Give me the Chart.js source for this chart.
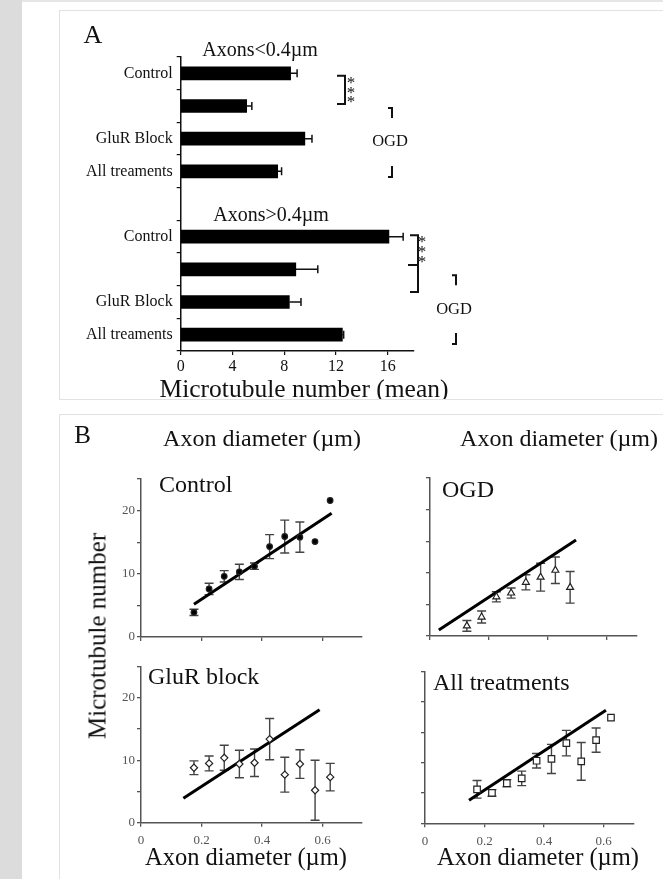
<!DOCTYPE html>
<html>
<head>
<meta charset="utf-8">
<title>Microtubule number</title>
<script src="https://cdn.jsdelivr.net/npm/chart.js"></script>
<style>
html, body { margin: 0; padding: 0; }
body {
    width: 663px; height: 879px; position: relative; overflow: hidden;
    background: #fff; font-family: "Liberation Serif", "Times New Roman", serif;
}
#strip { position: absolute; left: 0; top: 0; width: 22px; height: 879px; background: #dcdcdc; }
#topband { position: absolute; left: 22px; top: 0; width: 641px; height: 2px; background: #e6e6e6; }
.box { position: absolute; box-sizing: border-box; border: 1.5px solid #e2e2e2; background: #fff; }
.panel { position: absolute; left: 0; width: 663px; overflow: hidden; }
canvas { position: absolute; }
.t { position: absolute; white-space: nowrap; line-height: 1; color: #111; transform: translate(-50%, -50%); }
.l { position: absolute; white-space: nowrap; line-height: 1; color: #111; transform: translate(0, -50%); }
.rot { transform: translate(-50%, -50%) rotate(-90deg); }
</style>
</head>
<body>
<div id="strip"></div>
<div id="topband"></div>
<div class="box" style="left:59px;top:10px;width:660px;height:390px;"></div>
<div class="box" style="left:59px;top:414px;width:660px;height:500px;"></div>

<!-- 面板A：柱状图 -->
<div class="panel" style="top:0;height:399px;">
    <canvas id="barChart" width="600" height="390" style="left:60px;top:10px;"></canvas>
    <div class="t" style="left:93px;top:34.5px;font-size:26px;">A</div>
    <div class="t" style="left:260px;top:49px;font-size:20px;">Axons&lt;0.4µm</div>
    <div class="t" style="left:271px;top:213.5px;font-size:20px;">Axons&gt;0.4µm</div>
    <div class="t" style="left:390px;top:141px;font-size:16.5px;">OGD</div>
    <div class="t" style="left:454px;top:309px;font-size:16.5px;">OGD</div>
    <div class="t" style="left:304px;top:389px;font-size:25.5px;">Microtubule number (mean)</div>
</div>

<!-- 面板B：散点图 -->
<div class="panel" style="top:0;height:879px;">
    <canvas id="controlChart" width="280" height="200" style="left:100px;top:460px;"></canvas>
    <canvas id="ogdChart" width="270" height="200" style="left:390px;top:460px;"></canvas>
    <canvas id="glurChart" width="280" height="229" style="left:100px;top:650px;"></canvas>
    <canvas id="allChart" width="275" height="229" style="left:385px;top:650px;"></canvas>
    <div class="t" style="left:82.5px;top:434px;font-size:25px;">B</div>
    <div class="t" style="left:262px;top:438px;font-size:24px;">Axon diameter (µm)</div>
    <div class="t" style="left:559px;top:438px;font-size:24px;">Axon diameter (µm)</div>
    <div class="l" style="left:159px;top:484px;font-size:24px;">Control</div>
    <div class="l" style="left:442px;top:488.5px;font-size:24px;">OGD</div>
    <div class="l" style="left:148px;top:676px;font-size:24px;">GluR block</div>
    <div class="l" style="left:433px;top:681.5px;font-size:24px;">All treatments</div>
    <div class="t rot" style="left:97px;top:636px;font-size:25px;">Microtubule number</div>
    <div class="t" style="left:246px;top:857px;font-size:24.5px;">Axon diameter (µm)</div>
    <div class="t" style="left:538px;top:857px;font-size:24.5px;">Axon diameter (µm)</div>
</div>

<script>
// 面板A数据：微管数量均值（上组 <0.4µm，下组 >0.4µm，中间留空一行）
const barLabels = ['Control', '', 'GluR Block', 'All treaments', '', 'Control', '', 'GluR Block', 'All treaments'];
const barMeans = [8.5, 5.1, 9.6, 7.5, null, 16.1, 8.9, 8.4, 12.5];
const barErrors = [0.5, 0.4, 0.55, 0.3, 0, 1.1, 1.7, 0.9, 0.1];
const barTicks = [0, 4, 8, 12, 16];

// 面板B数据：按轴突直径分组
const diamBins = [0.175, 0.225, 0.275, 0.325, 0.375, 0.425, 0.475, 0.525, 0.575, 0.625];
const ogdBins = [0.125, 0.175, 0.225, 0.275, 0.325, 0.375, 0.425, 0.475];

const controlMeans = [3.9, 7.6, 9.6, 10.3, 11.2, 14.3, 15.9, 15.8, 15.1, 21.6];
const controlErrors = [0.5, 0.9, 0.9, 1.2, 0.5, 1.9, 2.6, 2.4, 0, 0];
const controlFitX = [0.175, 0.63];
const controlFitY = [5.2, 19.6];

const ogdMeans = [1.6, 3.0, 6.2, 6.8, 8.5, 9.3, 10.4, 7.7];
const ogdErrors = [0.85, 0.95, 0.8, 0.8, 1.2, 2.2, 2.1, 2.5];
const ogdFitX = [0.03, 0.495];
const ogdFitY = [0.95, 15.2];

const glurMeans = [8.8, 9.5, 10.4, 9.4, 9.6, 13.4, 7.7, 9.4, 5.2, 7.3];
const glurErrors = [1.1, 1.2, 2.0, 2.2, 2.2, 3.3, 2.8, 2.3, 4.8, 2.2];
const glurFitX = [0.14, 0.59];
const glurFitY = [3.9, 18.1];

const allMeans = [5.6, 5.0, 6.6, 7.4, 10.3, 10.6, 13.2, 10.2, 13.7, 17.4];
const allErrors = [1.45, 0.55, 0.6, 1.2, 1.2, 2.4, 2.1, 3.1, 2.0, 0];
const allFitX = [0.148, 0.608];
const allFitY = [3.8, 18.6];

const diamTicks = [0, 0.2, 0.4, 0.6];
const countTicks = [0, 5, 10, 15, 20, 25];

// 全局图表对象
window.figureCharts = window.figureCharts || {};

const serifFamily = '"Liberation Serif", "Times New Roman", serif';
const axisGray = '#555';

document.addEventListener('DOMContentLoaded', function() {
    if (typeof Chart === 'undefined') {
        console.error('Chart.js未加载成功');
        return;
    }
    Chart.defaults.font.family = serifFamily;
    try {
        initBarPanel();
        initScatterPanels();
    } catch (error) {
        console.error('初始化图表时发生错误:', error);
    }
});

/**
 * 清除刻度轴的额外留白，使绘图区位置固定
 */
function clearPad(s) {
    s.paddingTop = 0;
    s.paddingBottom = 0;
    s.paddingLeft = 0;
    s.paddingRight = 0;
}

/**
 * 面板A：误差线
 */
const barErrorPlugin = {
    id: 'barErrors',
    afterDatasetsDraw(chart) {
        const meta = chart.getDatasetMeta(0);
        const xs = chart.scales.x;
        const c = chart.ctx;
        c.save();
        c.strokeStyle = '#111';
        c.lineWidth = 1.5;
        meta.data.forEach((bar, i) => {
            const e = barErrors[i];
            if (!e || barMeans[i] == null) return;
            const x0 = xs.getPixelForValue(barMeans[i]);
            const x1 = xs.getPixelForValue(barMeans[i] + e);
            c.beginPath();
            c.moveTo(x0, bar.y);
            c.lineTo(x1, bar.y);
            c.moveTo(x1, bar.y - 4);
            c.lineTo(x1, bar.y + 4);
            c.stroke();
        });
        c.restore();
    }
};

/**
 * 面板A：显著性括号、星号和 OGD 角括号
 */
const bracketPlugin = {
    id: 'brackets',
    afterDraw(chart) {
        const ys = chart.scales.y;
        const c = chart.ctx;
        const py = i => ys.getPixelForValue(i);
        c.save();
        c.strokeStyle = '#111';
        c.fillStyle = '#111';
        c.lineWidth = 2;

        // 上组 Control vs OGD
        let top = py(0) + 2.5, bot = py(1) - 2;
        c.beginPath();
        c.moveTo(277, top); c.lineTo(285, top); c.lineTo(285, bot); c.lineTo(277, bot);
        c.stroke();

        // 下组 Control vs OGD（双括号）
        top = py(5) - 1.5;
        const mid = (py(5) + py(6)) / 2 + 12;
        bot = py(6) + 22.7;
        c.beginPath();
        c.moveTo(350, top); c.lineTo(358, top); c.lineTo(358, bot); c.lineTo(350, bot);
        c.moveTo(348, mid); c.lineTo(358, mid);
        c.stroke();

        // OGD 角括号
        const corners = [[332, py(1) + 2, py(3) + 5.7], [396, py(6) + 6, py(8) + 9.3]];
        corners.forEach(([x, y0, y1]) => {
            c.beginPath();
            c.moveTo(x - 4, y0); c.lineTo(x, y0); c.lineTo(x, y0 + 10);
            c.moveTo(x, y1 - 11); c.lineTo(x, y1); c.lineTo(x - 4, y1);
            c.stroke();
        });

        // 星号
        c.font = '17px ' + serifFamily;
        c.textAlign = 'center';
        c.textBaseline = 'alphabetic';
        [70, 79.5, 89].forEach(y => c.fillText('*', 291, y + 8));
        [229, 239, 249].forEach(y => c.fillText('*', 362, y + 8));
        c.restore();
    }
};

/**
 * 初始化面板A水平柱状图
 */
function initBarPanel() {
    const ctx = document.getElementById('barChart');
    window.figureCharts.bar = new Chart(ctx, {
        type: 'bar',
        data: {
            labels: barLabels,
            datasets: [{
                data: barMeans,
                backgroundColor: '#000',
                borderWidth: 0,
                barThickness: 13
            }]
        },
        options: {
            indexAxis: 'y',
            responsive: false,
            animation: false,
            layout: { padding: { top: 47, right: 246.5, left: 0, bottom: 0 } },
            plugins: { legend: { display: false }, tooltip: { enabled: false } },
            scales: {
                y: {
                    type: 'category',
                    offset: true,
                    grid: { offset: true, drawOnChartArea: false, tickLength: 4, color: '#111', lineWidth: 1.2 },
                    border: { color: '#111', width: 1.5 },
                    ticks: { color: '#111', font: { size: 16 }, padding: 4, autoSkip: false },
                    afterFit: s => { s.width = 120.7; clearPad(s); }
                },
                x: {
                    type: 'linear',
                    min: 0,
                    max: 18,
                    afterBuildTicks: s => { s.ticks = barTicks.map(v => ({ value: v })); },
                    grid: { drawOnChartArea: false, tickLength: 4, color: '#111', lineWidth: 1.2 },
                    border: { color: '#111', width: 1.5 },
                    ticks: { color: '#111', font: { size: 16 }, padding: 2, autoSkip: false, maxRotation: 0 },
                    afterFit: s => { s.height = 49; clearPad(s); }
                }
            }
        },
        plugins: [barErrorPlugin, bracketPlugin]
    });
}

/**
 * 面板B：竖直误差线
 */
const errorBarPlugin = {
    id: 'errorBars',
    beforeDatasetsDraw(chart) {
        const ds = chart.data.datasets[0];
        if (!ds.errors) return;
        const ys = chart.scales.y;
        const meta = chart.getDatasetMeta(0);
        const c = chart.ctx;
        c.save();
        c.strokeStyle = '#444';
        c.lineWidth = 1.4;
        meta.data.forEach((pt, i) => {
            const e = ds.errors[i];
            if (!e) return;
            const v = ds.data[i].y;
            const yTop = ys.getPixelForValue(v + e);
            const yBot = ys.getPixelForValue(v - e);
            c.beginPath();
            c.moveTo(pt.x, yTop); c.lineTo(pt.x, yBot);
            c.moveTo(pt.x - 4.5, yTop); c.lineTo(pt.x + 4.5, yTop);
            c.moveTo(pt.x - 4.5, yBot); c.lineTo(pt.x + 4.5, yBot);
            c.stroke();
        });
        c.restore();
    }
};

/**
 * 创建单个散点子图
 */
function makeScatter(id, cfg) {
    const points = cfg.xs.map((x, i) => ({ x: x, y: cfg.means[i] }));
    const fit = cfg.fitX.map((x, i) => ({ x: x, y: cfg.fitY[i] }));
    const tickFont = { size: 13 };
    return new Chart(document.getElementById(id), {
        type: 'scatter',
        data: {
            datasets: [
                {
                    data: points,
                    errors: cfg.errors,
                    pointStyle: cfg.style,
                    pointRadius: cfg.radius,
                    backgroundColor: cfg.fill,
                    borderColor: '#222',
                    borderWidth: 1.2
                },
                {
                    data: fit,
                    showLine: true,
                    borderColor: '#000',
                    borderWidth: 3,
                    pointRadius: 0
                }
            ]
        },
        options: {
            responsive: false,
            animation: false,
            layout: { padding: { top: cfg.padTop, right: cfg.padRight, left: 0, bottom: 0 } },
            plugins: { legend: { display: false }, tooltip: { enabled: false } },
            scales: {
                x: {
                    type: 'linear',
                    min: 0,
                    max: cfg.xMax,
                    afterBuildTicks: s => { s.ticks = diamTicks.map(v => ({ value: v })); },
                    grid: { drawOnChartArea: false, tickLength: 4, color: axisGray, lineWidth: 1.3 },
                    border: { color: axisGray, width: 1.5 },
                    ticks: {
                        display: cfg.xLabels, color: axisGray, font: tickFont, padding: 6,
                        autoSkip: false, maxRotation: 0,
                        callback: v => (v === 0 ? '0' : v.toFixed(1))
                    },
                    afterFit: s => { s.height = cfg.xHeight; clearPad(s); }
                },
                y: {
                    type: 'linear',
                    min: 0,
                    max: 25,
                    afterBuildTicks: s => { s.ticks = countTicks.map(v => ({ value: v })); },
                    grid: { drawOnChartArea: false, tickLength: 4, color: axisGray, lineWidth: 1.3 },
                    border: { color: axisGray, width: 1.5 },
                    ticks: {
                        display: cfg.yLabels, color: axisGray, font: tickFont, padding: 2,
                        autoSkip: false,
                        callback: v => (v % 10 === 0 ? String(v) : '')
                    },
                    afterFit: s => { s.width = cfg.yWidth; clearPad(s); }
                }
            }
        },
        plugins: [errorBarPlugin]
    });
}

/**
 * 初始化面板B的四个子图
 */
function initScatterPanels() {
    window.figureCharts.control = makeScatter('controlChart', {
        xs: diamBins, means: controlMeans, errors: controlErrors,
        fitX: controlFitX, fitY: controlFitY,
        style: 'circle', radius: 2.8, fill: '#000',
        xMax: 0.73, padTop: 19, padRight: 18.1, xHeight: 23, yWidth: 41,
        xLabels: false, yLabels: true
    });
    window.figureCharts.ogd = makeScatter('ogdChart', {
        xs: ogdBins, means: ogdMeans, errors: ogdErrors,
        fitX: ogdFitX, fitY: ogdFitY,
        style: 'triangle', radius: 4, fill: '#fff',
        xMax: 0.7, padTop: 18, padRight: 23.5, xHeight: 24, yWidth: 40,
        xLabels: false, yLabels: false
    });
    window.figureCharts.glur = makeScatter('glurChart', {
        xs: diamBins, means: glurMeans, errors: glurErrors,
        fitX: glurFitX, fitY: glurFitY,
        style: 'rectRot', radius: 3.6, fill: '#fff',
        xMax: 0.73, padTop: 16.7, padRight: 18, xHeight: 56.3, yWidth: 41,
        xLabels: true, yLabels: true
    });
    window.figureCharts.all = makeScatter('allChart', {
        xs: diamBins, means: allMeans, errors: allErrors,
        fitX: allFitX, fitY: allFitY,
        style: 'rect', radius: 4.6, fill: '#fff',
        xMax: 0.7, padTop: 21.5, padRight: 26.7, xHeight: 55.7, yWidth: 40,
        xLabels: true, yLabels: false
    });
}
</script>
</body>
</html>
